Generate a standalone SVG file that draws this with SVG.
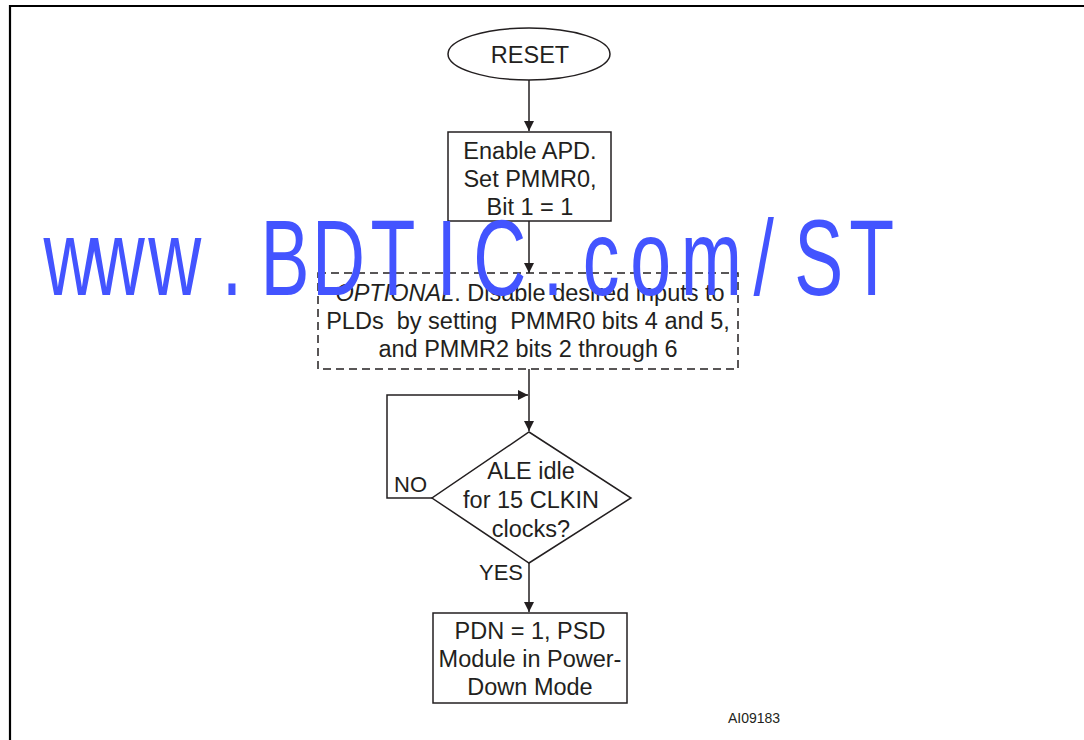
<svg xmlns="http://www.w3.org/2000/svg" width="1084" height="740" viewBox="0 0 1084 740">
<style>
.t{font-family:"Liberation Sans",Arial,sans-serif;font-size:23.5px;fill:#231f20;text-anchor:middle}
.l{font-family:"Liberation Sans",Arial,sans-serif;font-size:22px;fill:#231f20}
.s{fill:#fff;stroke:#231f20;stroke-width:1.5}
.c{fill:none;stroke:#231f20;stroke-width:1.5}
.wm{font-family:"Liberation Sans",Arial,sans-serif;font-size:108px;fill:#4354ff;text-anchor:middle}
</style>
<defs>
<marker id="ah" viewBox="0 0 10 10" refX="10" refY="5" markerWidth="10" markerHeight="10" markerUnits="userSpaceOnUse" orient="auto">
<path d="M0,0 L10,5 L0,10 Z" fill="#231f20"/>
</marker>
</defs>
<rect width="1084" height="740" fill="#fff"/>
<path d="M9,6 H1084 M10,5 V740" stroke="#000" stroke-width="2.2" fill="none"/>
<g id="connectors">
<path class="c" d="M529,80 V131" marker-end="url(#ah)"/>
<path class="c" d="M529,221 V273" marker-end="url(#ah)"/>
<path class="c" d="M529,369 V431" marker-end="url(#ah)"/>
<path class="c" d="M432,498 H387 V395 H528" marker-end="url(#ah)"/>
<path class="c" d="M529,563 V612" marker-end="url(#ah)"/>
<text class="l" x="394" y="492">NO</text>
<text class="l" x="523" y="580" style="text-anchor:end">YES</text>
</g>
<g id="reset">
<ellipse class="s" cx="529" cy="54" rx="81" ry="26"/>
<text class="t" x="530" y="63">RESET</text>
</g>
<g id="enable">
<rect class="s" x="448" y="132" width="163" height="89"/>
<text class="t" x="530" y="159">Enable APD.</text>
<text class="t" x="530" y="187">Set PMMR0,</text>
<text class="t" x="530" y="215">Bit 1 = 1</text>
</g>
<g id="optional">
<rect class="s" x="318" y="273" width="420" height="96" stroke-dasharray="8,5"/>
<text class="t" x="530" y="301"><tspan font-style="italic">OPTIONAL</tspan>. Disable desired inputs to</text>
<text class="t" x="528" y="329" xml:space="preserve">PLDs  by setting  PMMR0 bits 4 and 5,</text>
<text class="t" x="528" y="357">and PMMR2 bits 2 through 6</text>
</g>
<g id="decision">
<path class="s" d="M529,432 L631,498 L529,563 L432,498 Z"/>
<text class="t" x="531" y="479">ALE idle</text>
<text class="t" x="531" y="508">for 15 CLKIN</text>
<text class="t" x="531" y="537">clocks?</text>
</g>
<g id="powerdown">
<rect class="s" x="433" y="613" width="194" height="90"/>
<text class="t" x="530" y="639">PDN = 1, PSD</text>
<text class="t" x="530" y="667">Module in Power-</text>
<text class="t" x="530" y="695">Down Mode</text>
</g>
<text x="754" y="723" style="font-family:'Liberation Sans',Arial,sans-serif;font-size:14px;fill:#231f20;text-anchor:middle">AI09183</text>
<g id="watermark" transform="translate(0,295) scale(0.68,1)">
<text class="wm" y="0"><tspan x="103">w</tspan><tspan x="174">w</tspan><tspan x="257">w</tspan><tspan x="341">.</tspan><tspan x="419">B</tspan><tspan x="498">D</tspan><tspan x="578">T</tspan><tspan x="657">I</tspan><tspan x="735">C</tspan><tspan x="813">.</tspan><tspan x="884">c</tspan><tspan x="957">o</tspan><tspan x="1046">m</tspan><tspan x="1123">/</tspan><tspan x="1204">S</tspan><tspan x="1282">T</tspan></text>
</g>
</svg>
